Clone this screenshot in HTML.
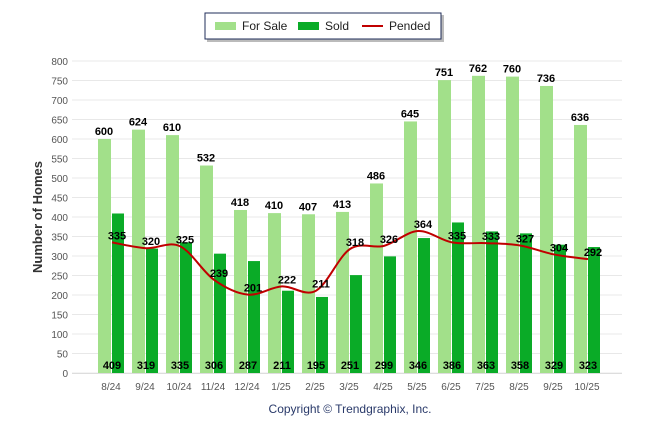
<!DOCTYPE html>
<html><head><meta charset="utf-8"><style>
body{margin:0;background:#fff;font-family:"Liberation Sans",sans-serif}
svg text{font-family:"Liberation Sans",sans-serif}
</style></head><body>
<svg id="c" width="646" height="434">
<g id="grid"></g><g id="bars"></g><g id="line"></g><g id="labels"></g>
<g>
<rect x="207" y="15" width="237" height="27" fill="#bbb"/>
<rect x="205" y="13" width="236" height="26" fill="#fff" stroke="#1f2d5a" stroke-width="1"/>
<rect x="215" y="22" width="21" height="8" fill="#a2e08a"/>
<text x="242" y="30" font-size="12" fill="#222">For Sale</text>
<rect x="298" y="22" width="21" height="8" fill="#0aab27"/>
<text x="325" y="30" font-size="12" fill="#222">Sold</text>
<line x1="362" y1="26" x2="383" y2="26" stroke="#c00000" stroke-width="2"/>
<text x="389" y="30" font-size="12" fill="#222">Pended</text>
</g>
<text transform="translate(42,217) rotate(-90)" text-anchor="middle" font-size="13" font-weight="bold" fill="#333">Number of Homes</text>
<text x="350" y="413" text-anchor="middle" font-size="12" fill="#2a3a6a">Copyright © Trendgraphix, Inc.</text>
</svg>
<script>
const categories=["8/24","9/24","10/24","11/24","12/24","1/25","2/25","3/25","4/25","5/25","6/25","7/25","8/25","9/25","10/25"];
const forSale=[600,624,610,532,418,410,407,413,486,645,751,762,760,736,636];
const sold=[409,319,335,306,287,211,195,251,299,346,386,363,358,329,323];
const pended=[335,320,325,239,201,222,211,318,326,364,335,333,327,304,292];
const yTicks=[0,50,100,150,200,250,300,350,400,450,500,550,600,650,700,750,800];
const NS="http://www.w3.org/2000/svg";
const y=v=>373-v*0.39;
const x=i=>111+i*34;
function mk(tag,attrs,parent,txt){const e=document.createElementNS(NS,tag);for(const k in attrs)e.setAttribute(k,attrs[k]);if(txt!==undefined)e.textContent=txt;document.getElementById(parent).appendChild(e);return e;}
yTicks.forEach(t=>{
 let l=mk('line',{x1:72,x2:622,y1:y(t),y2:y(t),stroke:'#e8e8e8'},'grid');
 
 
 let tx=mk('text',{x:68,y:y(t)+4,'text-anchor':'end','font-size':10,fill:'#555'},'grid',t);
 
 
});
let ax=mk('line',{x1:72,x2:622,y1:373.5,y2:373.5,stroke:'#ddd'},'grid');


categories.forEach((c,i)=>{
 let t=mk('text',{x:x(i),y:390,'text-anchor':'middle','font-size':10,fill:'#555'},'grid',c);
 
 
 let b1=mk('rect',{x:x(i)-13,y:y(forSale[i]),width:13,height:373-y(forSale[i]),fill:'#a2e08a'},'bars');
 
 
 let b2=mk('rect',{x:x(i)+1,y:y(sold[i]),width:12,height:373-y(sold[i]),fill:'#0aab27'},'bars');
 
 
 let l1=mk('text',{x:x(i)-7,y:y(forSale[i])-4,'text-anchor':'middle','font-size':11,'font-weight':'bold',fill:'#000'},'labels',forSale[i]);
 
 
 let l2=mk('text',{x:x(i)+1,y:369,'text-anchor':'middle','font-size':11,'font-weight':'bold',fill:'#000'},'labels',sold[i]);
 
 
 let l3=mk('text',{x:x(i)+6,y:y(pended[i])-3,'text-anchor':'middle','font-size':11,'font-weight':'bold',fill:'#000'},'labels',pended[i]);
 
 
});
const pts=pended.map((v,i)=>[x(i)+1,y(v)]);
let d=`M${pts[0][0]},${pts[0][1]}`;
for(let i=0;i<pts.length-1;i++){
 const p0=pts[Math.max(0,i-1)],p1=pts[i],p2=pts[i+1],p3=pts[Math.min(pts.length-1,i+2)];
 const c1=[p1[0]+(p2[0]-p0[0])/6,p1[1]+(p2[1]-p0[1])/6],c2=[p2[0]-(p3[0]-p1[0])/6,p2[1]-(p3[1]-p1[1])/6];
 d+=` C${c1[0]},${c1[1]} ${c2[0]},${c2[1]} ${p2[0]},${p2[1]}`;
}
let pl=mk('path',{d:d,fill:'none',stroke:'#c00000','stroke-width':2},'line');


</script>
</body></html>
